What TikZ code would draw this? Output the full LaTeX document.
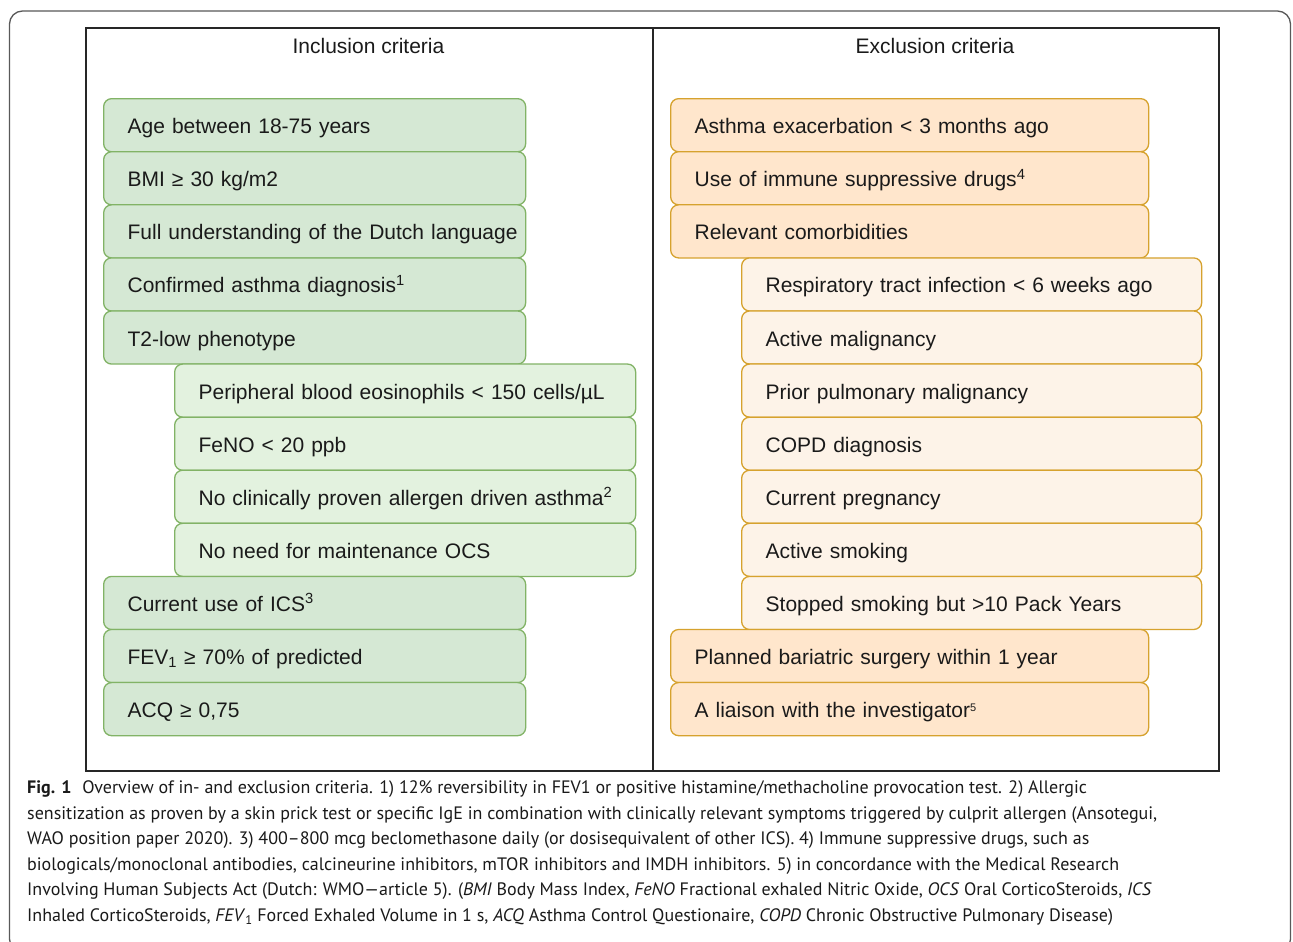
\documentclass[tikz,border=0pt]{standalone}
\usepackage{fontspec}
\setmainfont{Liberation Sans}
\newfontfamily\capfont{PT Sans}
\definecolor{gfill}{HTML}{D5E8D4}
\definecolor{gsub}{HTML}{E3F2DF}
\definecolor{gline}{HTML}{82B366}
\definecolor{ofill}{HTML}{FFE6CC}
\definecolor{osub}{HTML}{FDF3E8}
\definecolor{oline}{HTML}{D6A22E}
\definecolor{txt}{HTML}{1A1A1A}
\tikzset{
  critbox/.style={draw, rounded corners=8pt, line width=1.3pt, anchor=north west,
    minimum height=53.1pt, inner xsep=24pt, inner ysep=0pt, align=left, text=txt,
    text height=21pt, text depth=4pt,
    font=\fontsize{21}{25}\selectfont},
  gmain/.style={critbox, draw=gline, fill=gfill, text width=374pt},
  gsubb/.style={critbox, draw=gline, fill=gsub, text width=413pt},
  omain/.style={critbox, draw=oline, fill=ofill, text width=430pt},
  osubb/.style={critbox, draw=oline, fill=osub, text width=412pt},
  coltitle/.style={font=\fontsize{21}{25}\selectfont, text=txt},
  capline/.style={anchor=base west, inner sep=0pt, text=txt, font=\capfont\fontsize{18}{22}\selectfont}
}
\newcommand{\smallsup}[1]{\raisebox{6pt}{\fontsize{11}{11}\selectfont #1}}
\begin{document}
\begin{tikzpicture}[x=1pt,y=-1pt]
\useasboundingbox (0,0) rectangle (1293,942);
\fill[white] (0,0) rectangle (1293,942);
\begin{scope}
\clip (0,0) rectangle (1293,942);
\draw[line width=1.3pt, black!65, rounded corners=13pt] (9.5,11) rectangle (1290.5,952);
\end{scope}
% inner frame
\draw[line width=1.6pt, black!85] (86,28) rectangle (1219,771);
\draw[line width=1.6pt, black!85] (653,28) -- (653,771);
\node[coltitle] (tin) at (368.5,46) {Inclusion criteria};
\node[coltitle] (tex) at (935,46) {Exclusion criteria};
% inclusion
\node[gmain] (i1) at (103,98) {Age between 18-75 years};
\node[gmain] (i2) at (103,151.08) {BMI ≥ 30 kg/m2};
\node[gmain] (i3) at (103,204.17) {\mbox{Full understanding of the Dutch language}};
\node[gmain] (i4) at (103,257.25) {Confirmed asthma diagnosis\textsuperscript{1}};
\node[gmain] (i5) at (103,310.33) {T2-low phenotype};
\node[gsubb] (i6) at (174,363.42) {\mbox{Peripheral blood eosinophils < 150 cells/µL}};
\node[gsubb] (i7) at (174,416.5) {FeNO < 20 ppb};
\node[gsubb] (i8) at (174,469.58) {\mbox{No clinically proven allergen driven asthma\textsuperscript{2}}};
\node[gsubb] (i9) at (174,522.67) {No need for maintenance OCS};
\node[gmain] (i10) at (103,575.75) {Current use of ICS\textsuperscript{3}};
\node[gmain] (i11) at (103,628.83) {FEV\textsubscript{1} ≥ 70\% of predicted};
\node[gmain] (i12) at (103,681.92) {ACQ ≥ 0,75};
% exclusion
\node[omain] (e1) at (670,98) {Asthma exacerbation < 3 months ago};
\node[omain] (e2) at (670,151.08) {Use of immune suppressive drugs\textsuperscript{4}};
\node[omain] (e3) at (670,204.17) {Relevant comorbidities};
\node[osubb] (e4) at (741,257.25) {\mbox{Respiratory tract infection < 6 weeks ago}};
\node[osubb] (e5) at (741,310.33) {Active malignancy};
\node[osubb] (e6) at (741,363.42) {Prior pulmonary malignancy};
\node[osubb] (e7) at (741,416.5) {COPD diagnosis};
\node[osubb] (e8) at (741,469.58) {Current pregnancy};
\node[osubb] (e9) at (741,522.67) {Active smoking};
\node[osubb] (e10) at (741,575.75) {Stopped smoking but >10 Pack Years};
\node[omain] (e11) at (670,628.83) {Planned bariatric surgery within 1 year};
\node[omain] (e12) at (670,681.92) {A liaison with the investigator\smallsup{5}};
% caption
\node[capline] (c1) at (27,793.5) {\textbf{Fig. 1}\hspace{0.6em}Overview of in- and exclusion criteria. 1) 12\% reversibility in FEV1 or positive histamine/methacholine provocation test. 2) Allergic};
\node[capline] (c2) at (27,819) {sensitization as proven by a skin prick test or specific IgE in combination with clinically relevant symptoms triggered by culprit allergen (Ansotegui,};
\node[capline] (c3) at (27,844.5) {WAO position paper 2020). 3) 400–800 mcg beclomethasone daily (or dosisequivalent of other ICS). 4) Immune suppressive drugs, such as};
\node[capline] (c4) at (27,870) {biologicals/monoclonal antibodies, calcineurine inhibitors, mTOR inhibitors and IMDH inhibitors. 5) in concordance with the Medical Research};
\node[capline] (c5) at (27,895.5) {Involving Human Subjects Act (Dutch: WMO—article 5). (\textit{BMI} Body Mass Index, \textit{FeNO} Fractional exhaled Nitric Oxide, \textit{OCS} Oral CorticoSteroids, \textit{ICS}};
\node[capline] (c6) at (27,921) {Inhaled CorticoSteroids, \textit{FEV}\textsubscript{1} Forced Exhaled Volume in 1 s, \textit{ACQ} Asthma Control Questionaire, \textit{COPD} Chronic Obstructive Pulmonary Disease)};
\end{tikzpicture}
\end{document}
